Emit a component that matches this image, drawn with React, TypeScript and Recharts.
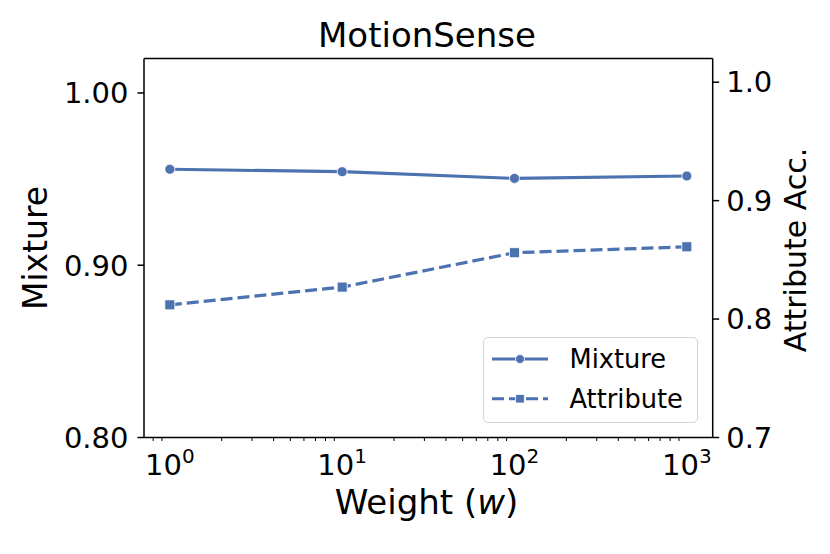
import React from "react";
import { LineChart, Line, XAxis, YAxis, Legend, ReferenceLine } from "recharts";

// values
const weights = [1, 10, 100, 1000];
const mixtureAcc = [0.9557, 0.9543, 0.9504, 0.9518];
const attributeAcc = [0.812, 0.827, 0.856, 0.861];

const leftTicks = [0.8, 0.9, 1.0];
const rightTicks = [0.7, 0.8, 0.9, 1.0];
const xTicks = [
  0.8, 0.9, 1, 2, 3, 4, 5, 6, 7, 8, 9, 10, 20, 30, 40, 50, 60, 70, 80, 90, 100,
  200, 300, 400, 500, 600, 700, 800, 900, 1000,
];
const legendOrder = ["mixture", "attribute"];

const BLUE = "#4C72B0";
const FONT = "DejaVu Sans";
const LEFT_MAX = 1.02;

const data = weights.map((w, i) => ({
  w,
  mixture: mixtureAcc[i],
  attribute: attributeAcc[i],
}));

const seriesStyle: Record<string, { dash?: string; marker: "circle" | "square" }> = {
  mixture: { marker: "circle" },
  attribute: { dash: "12 5", marker: "square" },
};

function LogTick(props: any) {
  const { x, y, payload } = props;
  const v = payload.value;
  const exp = Math.round(Math.log10(v));
  const isMajor = Math.abs(v - Math.pow(10, exp)) < 1e-9;
  if (!isMajor) {
    return <line x1={x} x2={x} y1={y} y2={y + 3.5} stroke="#000" strokeWidth={1} />;
  }
  return (
    <text x={x} y={y + 37.5} textAnchor="middle" fontSize={29} fill="#000">
      <tspan>10</tspan>
      <tspan dy={-11.7} fontSize={20}>
        {exp}
      </tspan>
    </text>
  );
}

function CircleDot(props: any) {
  const { cx, cy, index } = props;
  return <circle key={`c${index}`} cx={cx} cy={cy} r={5} fill={BLUE} stroke="#fff" strokeWidth={0.8} />;
}

function SquareDot(props: any) {
  const { cx, cy, index } = props;
  return (
    <rect key={`s${index}`} x={cx - 5} y={cy - 5} width={10} height={10} fill={BLUE} stroke="#fff" strokeWidth={0.8} />
  );
}

function LegendBox({ payload }: any) {
  const rows = [...(payload || [])].sort(
    (a: any, b: any) => legendOrder.indexOf(a.dataKey) - legendOrder.indexOf(b.dataKey)
  );
  return (
    <div
      style={{
        width: 213,
        height: 84,
        border: "1.3px solid #d3d3d3",
        borderRadius: 5,
        background: "rgba(255,255,255,0.8)",
        boxSizing: "content-box",
      }}
    >
      <svg width={213} height={84}>
        {rows.map((entry: any, i: number) => {
          const st = seriesStyle[entry.dataKey] || { marker: "circle" };
          const cy = 21 + i * 39.7;
          return (
            <g key={entry.value}>
              <line x1={8} x2={64} y1={cy} y2={cy} stroke={BLUE} strokeWidth={3} strokeDasharray={st.dash} />
              {st.marker === "circle" ? (
                <circle cx={36} cy={cy} r={4.5} fill={BLUE} stroke="#fff" strokeWidth={0.8} />
              ) : (
                <rect x={31.7} y={cy - 4.3} width={8.6} height={8.6} fill={BLUE} stroke="#fff" strokeWidth={0.8} />
              )}
              <text x={85.5} y={cy + 9.3} fontSize={25.7} fill="#000" fontFamily={FONT}>
                {entry.value}
              </text>
            </g>
          );
        })}
      </svg>
    </div>
  );
}

const axisStroke = { stroke: "#000", strokeWidth: 1.5 };

export default function App() {
  return (
    <div
      style={{
        position: "absolute",
        left: 0,
        top: 0,
        width: 830,
        height: 554,
        background: "#fff",
        fontFamily: FONT,
      }}
    >
      <LineChart width={830} height={554} data={data} margin={{ top: 58.5, right: 0, bottom: 0, left: 0 }}>
        <XAxis
          xAxisId="bottom"
          dataKey="w"
          type="number"
          scale="log"
          domain={[0.708, 1413]}
          allowDataOverflow
          ticks={xTicks}
          interval={0}
          tick={<LogTick />}
          tickLine={false}
          tickSize={0}
          tickMargin={0}
          height={116.5}
          axisLine={axisStroke}
        />
        <YAxis
          yAxisId="left"
          domain={[0.8, LEFT_MAX]}
          allowDataOverflow
          ticks={leftTicks}
          tickFormatter={(v: number) => v.toFixed(2)}
          width={144}
          tick={{ fill: "#000", fontSize: 29 }}
          tickSize={6.5}
          tickMargin={9}
          axisLine={axisStroke}
          tickLine={axisStroke}
        />
        <YAxis
          yAxisId="right"
          orientation="right"
          domain={[0.7, 1.02]}
          allowDataOverflow
          ticks={rightTicks}
          tickFormatter={(v: number) => v.toFixed(1)}
          width={117.3}
          tick={{ fill: "#000", fontSize: 29 }}
          tickSize={6.5}
          tickMargin={7}
          axisLine={axisStroke}
          tickLine={axisStroke}
        />
        {/* top spine */}
        <ReferenceLine
          xAxisId="bottom"
          yAxisId="left"
          y={LEFT_MAX}
          stroke="#000"
          strokeWidth={1.5}
          ifOverflow="visible"
        />
        <Line
          xAxisId="bottom"
          yAxisId="left"
          dataKey="mixture"
          name="Mixture"
          type="linear"
          stroke={BLUE}
          strokeWidth={3.2}
          dot={CircleDot}
          activeDot={false}
          isAnimationActive={false}
        />
        <Line
          xAxisId="bottom"
          yAxisId="right"
          dataKey="attribute"
          name="Attribute"
          type="linear"
          stroke={BLUE}
          strokeWidth={3.2}
          strokeDasharray={seriesStyle.attribute.dash}
          dot={SquareDot}
          activeDot={false}
          isAnimationActive={false}
        />
        <Legend
          layout="vertical"
          align="center"
          verticalAlign="middle"
          content={<LegendBox />}
          wrapperStyle={{ position: "absolute", left: 482.7, top: 337.3, width: 216, height: 87 }}
        />
      </LineChart>
      <svg
        width={830}
        height={554}
        style={{ position: "absolute", left: 0, top: 0, pointerEvents: "none" }}
        fontFamily={FONT}
      >
        <text x={427} y={46.7} textAnchor="middle" fontSize={34} fill="#000">
          MotionSense
        </text>
        <text x={426.5} y={514} textAnchor="middle" fontSize={34} fill="#000">
          Weight (<tspan fontStyle="italic">w</tspan>)
        </text>
        <text x={47} y={248} textAnchor="middle" fontSize={33} fill="#000" transform="rotate(-90 47 248)">
          Mixture
        </text>
        <text x={806} y={250} textAnchor="middle" fontSize={30} fill="#000" transform="rotate(-90 806 250)">
          Attribute Acc.
        </text>
      </svg>
    </div>
  );
}
